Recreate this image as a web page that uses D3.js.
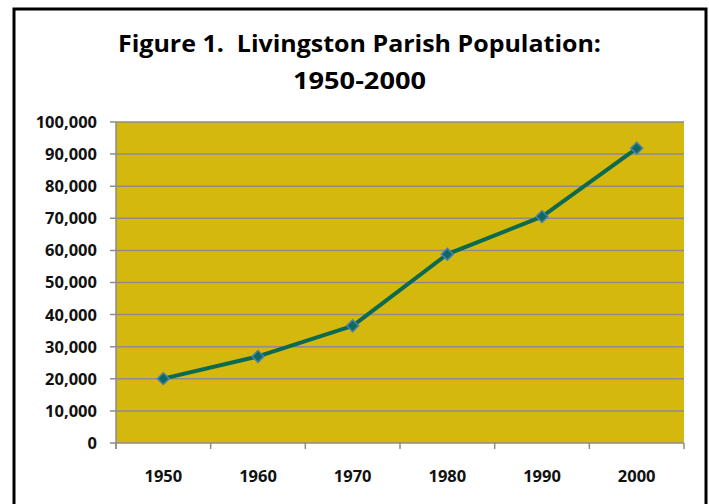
<!DOCTYPE html>
<html><head><meta charset="utf-8">
<script src="https://cdn.jsdelivr.net/npm/d3@7"></script>
<style>body{margin:0;background:#fff;} text{font-family:"Open Sans","Liberation Sans",sans-serif;font-weight:bold;white-space:pre;}</style>
</head><body>
<svg id="c" width="709" height="504"></svg>
<script>
const years = ["1950","1960","1970","1980","1990","2000"];
const population = [20054, 26974, 36511, 58806, 70526, 91814];
const yTicks = [0,10000,20000,30000,40000,50000,60000,70000,80000,90000,100000];
const titleLines = ["Figure 1.  Livingston Parish Population:", "1950-2000"];

const svg = d3.select("#c");
svg.append("rect").attr("x",14).attr("y",9).attr("width",692).attr("height",510)
  .attr("fill","#fff").attr("stroke","#000").attr("stroke-width",3);

const L=116, R=684, T=122, B=443;
const x = d3.scaleBand().domain(years).range([L,R]);
const y = d3.scaleLinear().domain([0,100000]).range([B,T]);

svg.append("rect").attr("x",L).attr("y",T).attr("width",R-L).attr("height",B-T).attr("fill","#D5B80D");

// gridlines
svg.append("g").selectAll("line").data(yTicks).join("line")
  .attr("x1",L-6).attr("x2",R).attr("y1",d=>y(d)).attr("y2",d=>y(d))
  .attr("stroke","#8c8c8c").attr("stroke-width",1.5);
// y axis line
svg.append("line").attr("x1",L).attr("x2",L).attr("y1",T).attr("y2",B+6).attr("stroke","#8c8c8c").attr("stroke-width",1.5);
// x ticks
const bounds = years.map(d=>x(d)).concat([R]);
svg.append("g").selectAll("line").data(bounds).join("line")
  .attr("x1",d=>d).attr("x2",d=>d).attr("y1",B).attr("y2",B+6)
  .attr("stroke","#8c8c8c").attr("stroke-width",1.5);

const fmt = d3.format(",");
svg.append("g").selectAll("text").data(yTicks).join("text")
  .attr("x",97).attr("y",d=>y(d)).attr("dy","0.36em").attr("text-anchor","end")
  .attr("font-size",16.5).attr("fill","#111").text(d=>fmt(d));
svg.append("g").selectAll("text").data(years).join("text")
  .attr("x",d=>x(d)+x.bandwidth()/2).attr("y",482).attr("text-anchor","middle")
  .attr("font-size",16.5).attr("fill","#111").text(d=>d);

const titleW = [483, 133];
svg.append("g").selectAll("text").data(titleLines).join("text")
  .attr("x",359.5).attr("y",(d,i)=>52+i*37).attr("text-anchor","middle")
  .attr("font-size",23.5).attr("fill","#000")
  .attr("textLength",(d,i)=>titleW[i]).attr("lengthAdjust","spacingAndGlyphs").text(d=>d);

const line = d3.line().x((d,i)=>x(years[i])+x.bandwidth()/2).y(d=>y(d));
svg.append("path").datum(population).attr("d",line).attr("fill","none")
  .attr("stroke","#0B6A4F").attr("stroke-width",4).attr("stroke-linejoin","round");
svg.append("g").selectAll("path").data(population).join("path")
  .attr("d",d3.symbol(d3.symbolSquare,70)())
  .attr("transform",(d,i)=>`translate(${x(years[i])+x.bandwidth()/2},${y(d)}) rotate(45)`)
  .attr("fill","#0E6B5C").attr("stroke","#4A7FB5").attr("stroke-width",1.5);
</script>
</body></html>
